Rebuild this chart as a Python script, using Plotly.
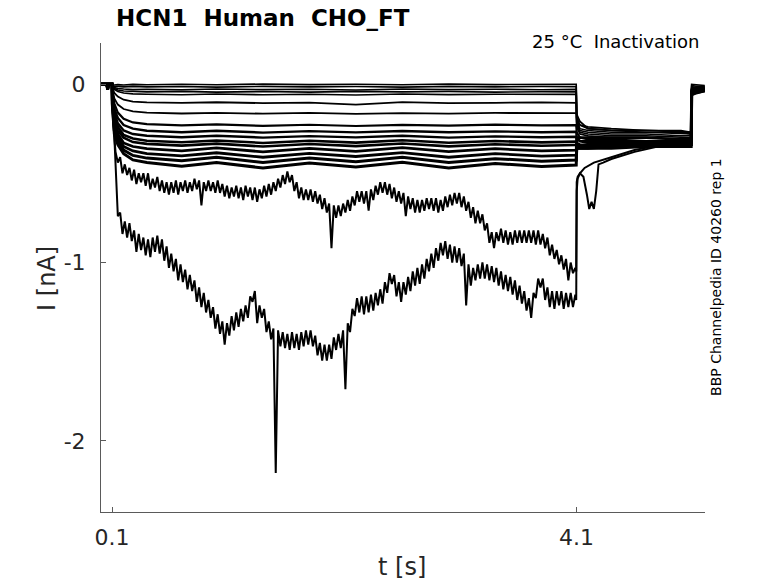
import numpy as np
import plotly.graph_objects as go

# ---- data (time in s, current in nA) ----
t_small = [0, 0.055, 0.062, 0.07, 0.1, 0.103, 0.12, 0.15, 0.2, 0.28, 0.4, 0.7, 1.0, 1.4, 1.8,
           2.2, 2.6, 3.0, 3.4, 3.8, 4.098, 4.102, 4.13, 4.2, 4.4, 4.7, 5.0, 5.088, 5.092, 5.13, 5.205]

baseline = [0, 0, -0.03, 0, 0]

small_traces = [
    [-0.004, -0.005, -0.003, -0.005, -0.002, -0.004, -0.001, -0.004, 0.0, -0.003, -0.001, -0.004, 0.0, -0.003, -0.001, -0.002,
     -0.20, -0.25, -0.26, -0.27, -0.27, -0.28, -0.28, -0.002, -0.004, -0.008],
    [-0.008, -0.012, -0.014, -0.016, -0.013, -0.016, -0.014, -0.017, -0.013, -0.016, -0.014, -0.017, -0.013, -0.016, -0.014, -0.015,
     -0.19, -0.23, -0.25, -0.26, -0.27, -0.27, -0.28, -0.008, -0.012, -0.012],
    [-0.01, -0.02, -0.025, -0.028, -0.031, -0.029, -0.032, -0.028, -0.031, -0.029, -0.033, -0.028, -0.031, -0.029, -0.032, -0.03,
     -0.21, -0.26, -0.27, -0.28, -0.28, -0.29, -0.29, -0.015, -0.018, -0.016],
    [-0.012, -0.025, -0.033, -0.039, -0.042, -0.044, -0.041, -0.045, -0.042, -0.045, -0.041, -0.044, -0.042, -0.045, -0.043, -0.044,
     -0.22, -0.27, -0.28, -0.29, -0.29, -0.30, -0.30, -0.02, -0.022, -0.02],
    [-0.015, -0.03, -0.042, -0.05, -0.055, -0.057, -0.06, -0.056, -0.06, -0.057, -0.061, -0.056, -0.059, -0.057, -0.06, -0.058,
     -0.19, -0.23, -0.24, -0.25, -0.26, -0.26, -0.27, -0.025, -0.025, -0.022],
    [-0.02, -0.05, -0.07, -0.088, -0.098, -0.103, -0.106, -0.102, -0.107, -0.104, -0.115, -0.101, -0.107, -0.105, -0.103, -0.106,
     -0.24, -0.28, -0.29, -0.30, -0.30, -0.31, -0.31, -0.03, -0.028, -0.025],
    [-0.03, -0.08, -0.115, -0.14, -0.153, -0.16, -0.165, -0.161, -0.166, -0.162, -0.167, -0.163, -0.166, -0.162, -0.165, -0.163,
     -0.17, -0.21, -0.25, -0.26, -0.26, -0.27, -0.27, -0.035, -0.03, -0.027],
    [-0.04, -0.11, -0.16, -0.195, -0.215, -0.225, -0.232, -0.226, -0.234, -0.228, -0.235, -0.229, -0.233, -0.227, -0.232, -0.23,
     -0.27, -0.30, -0.31, -0.31, -0.32, -0.32, -0.32, -0.04, -0.035, -0.03],
    [-0.05, -0.14, -0.19, -0.23, -0.25, -0.262, -0.27, -0.262, -0.272, -0.264, -0.271, -0.263, -0.27, -0.265, -0.27, -0.267,
     -0.30, -0.32, -0.33, -0.33, -0.33, -0.33, -0.33, -0.045, -0.038, -0.032],
    [-0.06, -0.16, -0.22, -0.26, -0.28, -0.29, -0.298, -0.29, -0.3, -0.292, -0.299, -0.29, -0.3, -0.293, -0.298, -0.295,
     -0.31, -0.32, -0.32, -0.32, -0.32, -0.32, -0.32, -0.04, -0.035, -0.03],
    [-0.07, -0.18, -0.24, -0.285, -0.305, -0.318, -0.326, -0.316, -0.33, -0.318, -0.328, -0.315, -0.329, -0.319, -0.327, -0.323,
     -0.33, -0.34, -0.34, -0.34, -0.34, -0.33, -0.33, -0.05, -0.042, -0.034],
    [-0.08, -0.2, -0.26, -0.3, -0.325, -0.335, -0.345, -0.334, -0.35, -0.336, -0.348, -0.333, -0.349, -0.337, -0.346, -0.342,
     -0.34, -0.35, -0.35, -0.35, -0.34, -0.34, -0.34, -0.052, -0.044, -0.035],
    [-0.09, -0.22, -0.28, -0.33, -0.35, -0.362, -0.374, -0.358, -0.38, -0.36, -0.377, -0.356, -0.379, -0.362, -0.375, -0.37,
     -0.30, -0.30, -0.30, -0.30, -0.30, -0.31, -0.31, -0.045, -0.04, -0.033],
    [-0.1, -0.24, -0.3, -0.35, -0.375, -0.39, -0.402, -0.385, -0.41, -0.388, -0.406, -0.384, -0.41, -0.39, -0.404, -0.398,
     -0.36, -0.36, -0.36, -0.35, -0.35, -0.35, -0.34, -0.055, -0.046, -0.036],
    [-0.11, -0.26, -0.32, -0.37, -0.4, -0.415, -0.43, -0.41, -0.44, -0.415, -0.435, -0.41, -0.44, -0.418, -0.432, -0.426,
     -0.36, -0.36, -0.36, -0.36, -0.35, -0.35, -0.35, -0.058, -0.048, -0.037],
    [-0.12, -0.28, -0.34, -0.39, -0.425, -0.44, -0.46, -0.44, -0.47, -0.442, -0.465, -0.438, -0.47, -0.445, -0.462, -0.454,
     -0.35, -0.35, -0.35, -0.35, -0.35, -0.34, -0.34, -0.06, -0.05, -0.038],
]
small_widths = [1.6, 1.6, 1.6, 1.6, 1.6, 1.8, 1.8, 2.2, 2.4, 2.4, 2.6, 2.6, 2.8, 2.8, 3, 3]

# two large, noisy sweeps sampled every 20 ms from 0.15 s to 4.09 s
t_grid = np.round(np.arange(0.15, 4.10, 0.02), 3)

sweep_a_start_t = [0, 0.055, 0.062, 0.07, 0.1, 0.103, 0.12, 0.13]
sweep_a_start = [0, 0, -0.03, 0, 0, -0.12, -0.3, -0.38]
sweep_a = [
    -0.44, -0.41, -0.50, -0.45, -0.51, -0.47, -0.54, -0.48, -0.56, -0.50,
    -0.55, -0.50, -0.57, -0.50, -0.59, -0.53, -0.58, -0.52, -0.60, -0.54,
    -0.61, -0.55, -0.62, -0.55, -0.61, -0.54, -0.62, -0.55, -0.60, -0.54,
    -0.61, -0.55, -0.60, -0.53, -0.59, -0.54, -0.68, -0.55, -0.60, -0.54,
    -0.60, -0.55, -0.61, -0.54, -0.61, -0.56, -0.63, -0.57, -0.64, -0.58,
    -0.63, -0.57, -0.64, -0.58, -0.65, -0.57, -0.63, -0.58, -0.65, -0.58,
    -0.66, -0.59, -0.64, -0.57, -0.63, -0.56, -0.62, -0.55, -0.60, -0.53,
    -0.58, -0.51, -0.56, -0.49, -0.55, -0.51, -0.60, -0.55, -0.64, -0.58,
    -0.65, -0.59, -0.65, -0.59, -0.66, -0.60, -0.67, -0.62, -0.70, -0.64,
    -0.72, -0.67, -0.92, -0.68, -0.75, -0.68, -0.74, -0.67, -0.72, -0.65,
    -0.71, -0.63, -0.68, -0.60, -0.66, -0.60, -0.67, -0.60, -0.71, -0.59,
    -0.65, -0.57, -0.62, -0.55, -0.61, -0.55, -0.62, -0.56, -0.64, -0.58,
    -0.66, -0.60, -0.67, -0.61, -0.74, -0.63, -0.70, -0.64, -0.72, -0.65,
    -0.72, -0.65, -0.71, -0.64, -0.70, -0.64, -0.71, -0.64, -0.72, -0.65,
    -0.71, -0.63, -0.69, -0.62, -0.68, -0.61, -0.67, -0.61, -0.69, -0.63,
    -0.71, -0.66, -0.75, -0.69, -0.78, -0.71, -0.78, -0.73, -0.82, -0.78,
    -0.89, -0.83, -0.92, -0.83, -0.88, -0.81, -0.89, -0.82, -0.90, -0.83,
    -0.90, -0.82, -0.89, -0.82, -0.89, -0.82, -0.89, -0.82, -0.89, -0.82,
    -0.90, -0.82, -0.90, -0.84, -0.92, -0.86, -0.96, -0.90, -0.98, -0.93,
    -1.01, -0.96, -1.04, -0.98, -1.10, -1.00, -1.06, -1.03,
]
sweep_a_tail_t = [4.098, 4.102, 4.11, 4.13, 4.17, 4.25, 4.4, 4.6, 4.8, 5.0, 5.088, 5.092, 5.13, 5.205]
sweep_a_tail = [-1.05, -0.60, -0.53, -0.50, -0.47, -0.44, -0.41, -0.37, -0.345, -0.33, -0.32, -0.03, -0.03, -0.025]

sweep_b_start_t = [0, 0.055, 0.062, 0.07, 0.1, 0.103, 0.12, 0.14]
sweep_b_start = [0, 0, -0.03, 0, 0, -0.05, -0.3, -0.6]
sweep_b = [
    -0.74, -0.72, -0.84, -0.77, -0.86, -0.78, -0.88, -0.82, -0.94, -0.84,
    -0.93, -0.86, -0.96, -0.87, -0.97, -0.86, -0.94, -0.85, -0.95, -0.87,
    -0.99, -0.91, -1.03, -0.95, -1.05, -0.98, -1.10, -1.01, -1.11, -1.04,
    -1.15, -1.07, -1.16, -1.10, -1.22, -1.14, -1.25, -1.17, -1.28, -1.21,
    -1.31, -1.25, -1.37, -1.29, -1.40, -1.33, -1.46, -1.34, -1.41, -1.30,
    -1.38, -1.28, -1.36, -1.26, -1.33, -1.24, -1.31, -1.19, -1.22, -1.16,
    -1.34, -1.24, -1.31, -1.26, -1.39, -1.33, -1.43, -1.37, -2.18, -1.38,
    -1.47, -1.39, -1.48, -1.40, -1.49, -1.39, -1.48, -1.40, -1.49, -1.39,
    -1.47, -1.38, -1.46, -1.38, -1.47, -1.41, -1.52, -1.45, -1.55, -1.46,
    -1.55, -1.46, -1.54, -1.42, -1.49, -1.40, -1.48, -1.38, -1.71, -1.34,
    -1.39, -1.26, -1.30, -1.20, -1.28, -1.19, -1.29, -1.19, -1.28, -1.18,
    -1.27, -1.17, -1.24, -1.15, -1.23, -1.11, -1.17, -1.06, -1.12, -1.07,
    -1.19, -1.11, -1.22, -1.11, -1.18, -1.08, -1.16, -1.05, -1.13, -1.03,
    -1.12, -1.01, -1.09, -0.98, -1.05, -0.95, -1.03, -0.92, -0.99, -0.89,
    -0.96, -0.88, -0.98, -0.90, -1.00, -0.91, -1.00, -0.92, -1.02, -0.95,
    -1.24, -1.01, -1.13, -1.03, -1.10, -1.01, -1.09, -1.00, -1.09, -1.01,
    -1.10, -1.02, -1.11, -1.03, -1.13, -1.05, -1.15, -1.07, -1.16, -1.08,
    -1.18, -1.10, -1.21, -1.13, -1.23, -1.16, -1.27, -1.20, -1.31, -1.17,
    -1.20, -1.09, -1.14, -1.09, -1.21, -1.14, -1.25, -1.16, -1.26, -1.16,
    -1.24, -1.16, -1.26, -1.17, -1.25, -1.17, -1.25, -1.18,
]
sweep_b_tail_t = [4.098, 4.102, 4.11, 4.13, 4.16, 4.19, 4.21, 4.23, 4.25, 4.27, 4.29, 4.33,
                  4.4, 4.6, 4.8, 5.0, 5.088, 5.092, 5.13, 5.205]
sweep_b_tail = [-1.21, -0.55, -0.52, -0.50, -0.52, -0.62, -0.70, -0.66, -0.70, -0.60, -0.45, -0.44,
                -0.42, -0.38, -0.35, -0.33, -0.32, -0.035, -0.035, -0.03]

fig = go.Figure()

for values, w in zip(small_traces, small_widths):
    fig.add_trace(go.Scatter(
        x=t_small, y=baseline + values, mode="lines",
        line=dict(color="black", width=w), showlegend=False, hoverinfo="skip",
    ))

for st, sv, body, tt, tv in [
    (sweep_a_start_t, sweep_a_start, sweep_a, sweep_a_tail_t, sweep_a_tail),
    (sweep_b_start_t, sweep_b_start, sweep_b, sweep_b_tail_t, sweep_b_tail),
]:
    n = min(len(body), len(t_grid))
    fig.add_trace(go.Scatter(
        x=list(st) + list(t_grid[:n]) + list(tt),
        y=list(sv) + list(body[:n]) + list(tv),
        mode="lines", line=dict(color="black", width=2),
        showlegend=False, hoverinfo="skip",
    ))

font = "DejaVu Sans"
axis_col = "#5a5a5a"
fig.update_layout(
    width=778, height=583,
    margin=dict(l=101, r=73, t=43, b=71),
    paper_bgcolor="white", plot_bgcolor="white",
    font=dict(family=font, color="#262626"),
    xaxis=dict(
        range=[0.005, 5.207], tickvals=[0.1, 4.1], ticktext=["0.1", "4.1"],
        showline=True, linecolor=axis_col, linewidth=1, ticks="inside", ticklen=5,
        tickcolor=axis_col, showgrid=False, zeroline=False, tickfont=dict(size=22),
        ticklabelstandoff=6,
    ),
    yaxis=dict(
        range=[-2.398, 0.23], tickvals=[0, -1, -2], ticktext=["0", "-1", "-2"],
        showline=True, linecolor=axis_col, linewidth=1, ticks="inside", ticklen=5,
        tickcolor=axis_col, showgrid=False, zeroline=False, tickfont=dict(size=22),
        ticklabelstandoff=10,
    ),
    annotations=[
        dict(text="<b>HCN1  Human  CHO_FT</b>", x=0.268, y=1.053, xref="paper", yref="paper",
             xanchor="center", yanchor="middle", showarrow=False, font=dict(size=23, color="black")),
        dict(text="25 °C  Inactivation", x=0.995, y=1.004, xref="paper", yref="paper",
             xanchor="right", yanchor="middle", showarrow=False, font=dict(size=18, color="black")),
        dict(text="BBP Channelpedia ID 40260 rep 1", x=1.018, y=0.501, xref="paper", yref="paper",
             xanchor="center", yanchor="middle", textangle=-90, showarrow=False,
             font=dict(size=14, color="black")),
        dict(text="I [nA]", x=-0.0894, y=0.497, xref="paper", yref="paper",
             xanchor="center", yanchor="middle", textangle=-90, showarrow=False, font=dict(size=24)),
        dict(text="t [s]", x=0.498, y=-0.117, xref="paper", yref="paper",
             xanchor="center", yanchor="middle", showarrow=False, font=dict(size=24)),
    ],
)

fig.write_html("out.html", post_script="document.body.style.margin='0';",
               config={"displayModeBar": False})
